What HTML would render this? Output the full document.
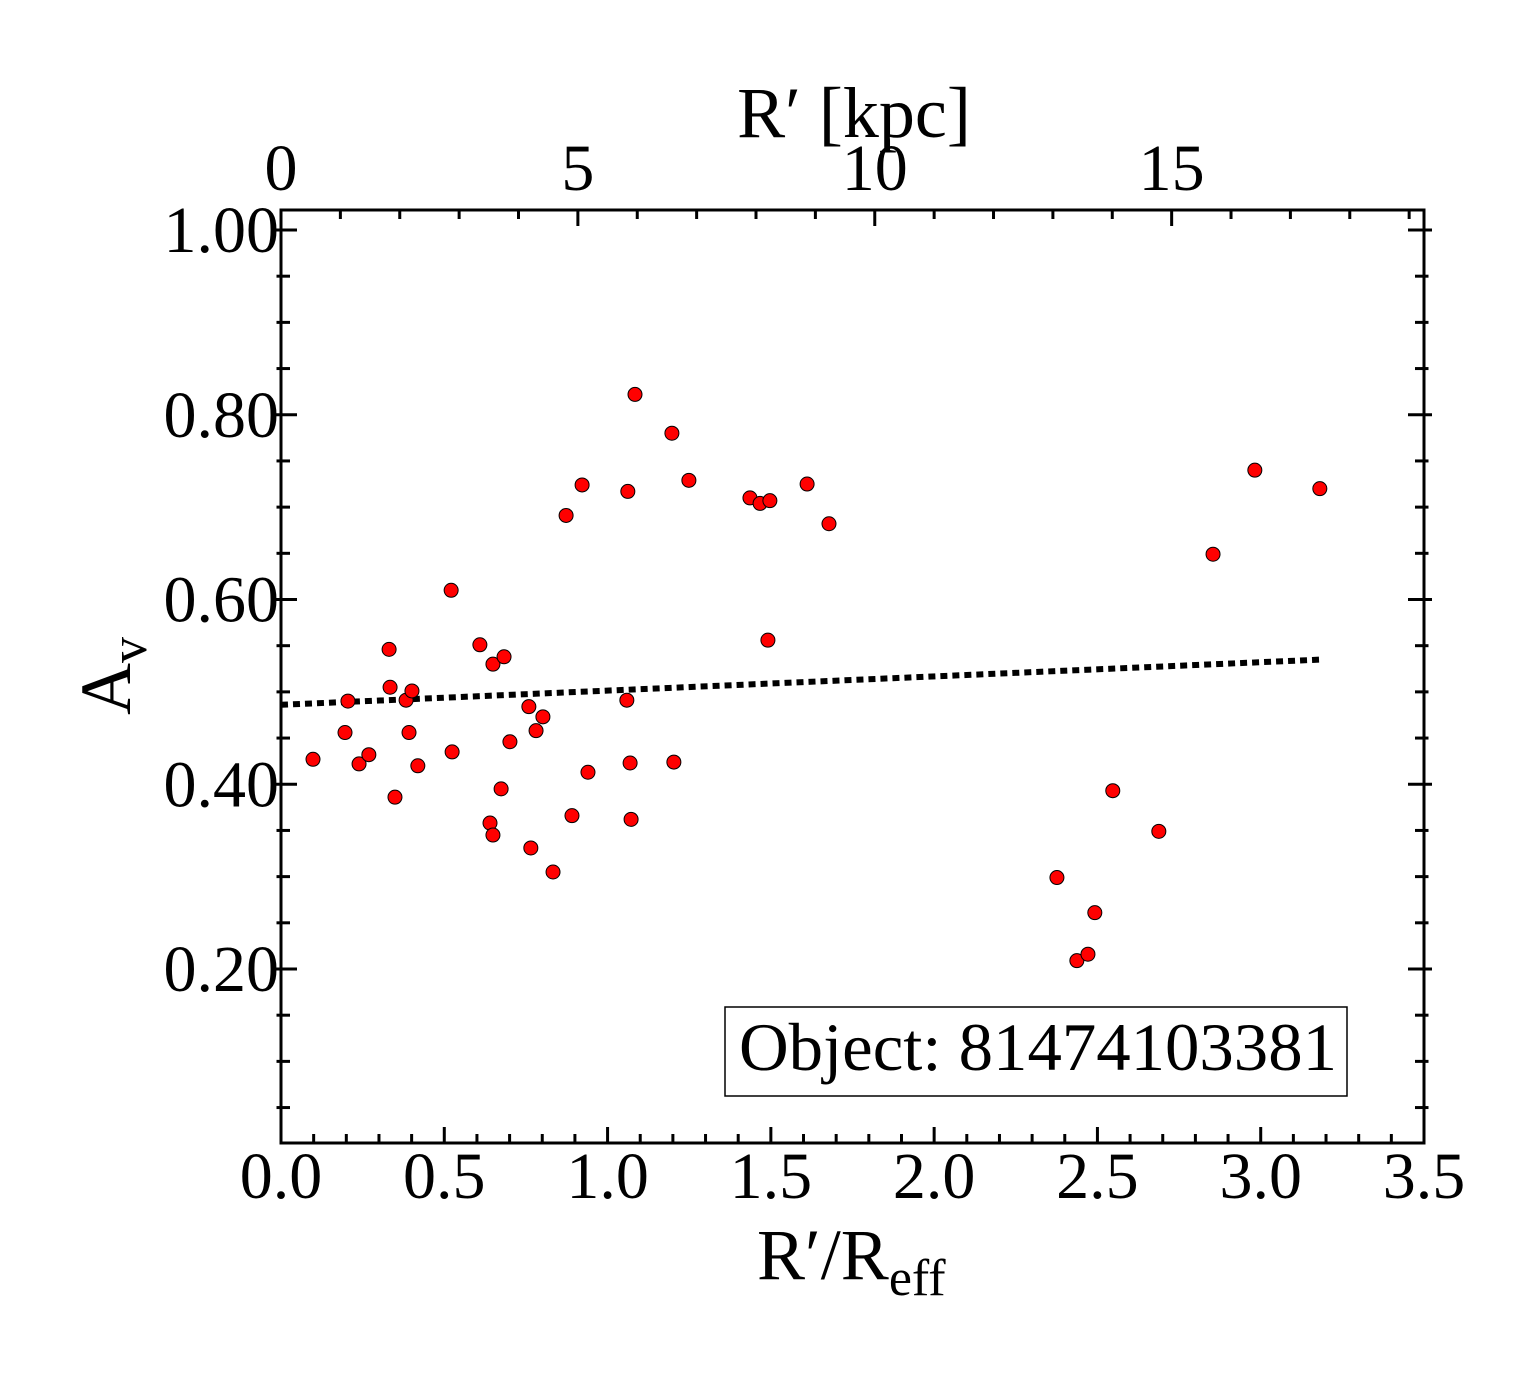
<!DOCTYPE html>
<html><head><meta charset="utf-8"><style>
body{margin:0;background:#fff}
svg{display:block;font-family:"Liberation Serif","DejaVu Serif",serif}
</style></head><body>
<svg id="chart" width="1540" height="1375" viewBox="0 0 1540 1375" xmlns="http://www.w3.org/2000/svg">
<g id="ticks"></g>
<g id="labels"></g>
<line id="fit" stroke="#000" stroke-width="6" stroke-dasharray="7,5"></line>
<g id="points"></g>
<rect x="281" y="210" width="1143" height="933" fill="none" stroke="#000" stroke-width="3"/>
<text x="757" y="1279" font-size="72">R′/R<tspan font-size="52" dy="16">eff</tspan></text>
<text x="854" y="137" font-size="72" text-anchor="middle">R′ [kpc]</text>
<text transform="translate(130,715) rotate(-90)" font-size="72">A<tspan font-size="52" dy="16">v</tspan></text>
<g>
<rect x="725" y="1007" width="622" height="89" fill="#fff" stroke="#000" stroke-width="1.5"/>
<text x="739" y="1070" font-size="68" textLength="598" lengthAdjust="spacingAndGlyphs">Object: 81474103381</text>
</g>
</svg>
<script>
const xValues=[0.098,0.196,0.205,0.239,0.269,0.331,0.334,0.349,0.383,0.392,0.401,0.419,0.521,0.524,0.609,0.649,0.640,0.649,0.674,0.683,0.701,0.759,0.765,0.781,0.802,0.833,0.873,0.891,0.922,0.940,1.059,1.062,1.069,1.072,1.084,1.197,1.203,1.249,1.436,1.467,1.491,1.497,1.611,1.678,2.376,2.437,2.471,2.492,2.547,2.688,2.854,2.982,3.181];
const avValues=[0.427,0.456,0.490,0.422,0.432,0.546,0.505,0.386,0.491,0.456,0.501,0.420,0.610,0.435,0.551,0.530,0.358,0.345,0.395,0.538,0.446,0.484,0.331,0.458,0.473,0.305,0.691,0.366,0.724,0.413,0.491,0.717,0.423,0.362,0.822,0.780,0.424,0.729,0.710,0.704,0.556,0.707,0.725,0.682,0.299,0.209,0.216,0.261,0.393,0.349,0.649,0.740,0.720];
const fitX=[0,3.187];
const fitY=[0.486,0.535];
const xTickLabels=["0.0","0.5","1.0","1.5","2.0","2.5","3.0","3.5"];
const yTickLabels=["0.20","0.40","0.60","0.80","1.00"];
const kpcTickLabels=["0","5","10","15"];
const kpcPerReff=5.5;
const NS="http://www.w3.org/2000/svg";
const L=281,R=1424,T=210,B=1143;
const sx=v=>L+v/3.5*(R-L);
const sy=v=>230+(1-v)*923.75;
const sk=k=>sx(k/kpcPerReff);
function mk(tag,attrs,parent){const e=document.createElementNS(NS,tag);for(const k in attrs)e.setAttribute(k,attrs[k]);parent.appendChild(e);return e;}
const tg=document.getElementById('ticks'),lg=document.getElementById('labels'),pg=document.getElementById('points');
const st={stroke:'#000','stroke-width':3};
for(let i=0;i<=35;i++){const x=sx(i/10),len=i%5===0?16:9;
 mk('line',Object.assign({x1:x,x2:x,y1:B,y2:B-len},st),tg);}
for(let k=0;k<=19;k++){const x=sk(k);if(x>R)break;const len=k%5===0?16:9;
 mk('line',Object.assign({x1:x,x2:x,y1:T,y2:T+len},st),tg);}
for(let i=1;i<=20;i++){const y=sy(i*0.05);if(y<T||y>B)continue;const len=i%4===0?16:9;
 mk('line',Object.assign({x1:L-len/2,x2:L+len,y1:y,y2:y},st),tg);
 mk('line',Object.assign({x1:R-len,x2:R+len/2,y1:y,y2:y},st),tg);}
xTickLabels.forEach(s=>{const t=mk('text',{x:sx(parseFloat(s)),y:1198,'font-size':66,'text-anchor':'middle'},lg);t.textContent=s;
 
 });
yTickLabels.forEach(s=>{const t=mk('text',{x:279,y:sy(parseFloat(s))+22,'font-size':66,'text-anchor':'end'},lg);t.textContent=s;
 
 });
kpcTickLabels.forEach(s=>{const t=mk('text',{x:sk(parseFloat(s)),y:190,'font-size':66,'text-anchor':'middle'},lg);t.textContent=s;
 
 });
const f=document.getElementById('fit');
f.setAttribute('x1',sx(fitX[0]));f.setAttribute('y1',sy(fitY[0]));f.setAttribute('x2',sx(fitX[1]));f.setAttribute('y2',sy(fitY[1]));
xValues.forEach((v,i)=>{const c=mk('circle',{cx:sx(v),cy:sy(avValues[i]),r:7,fill:'#f00',stroke:'#000','stroke-width':1},pg);
 
 });
</script>
</body></html>
